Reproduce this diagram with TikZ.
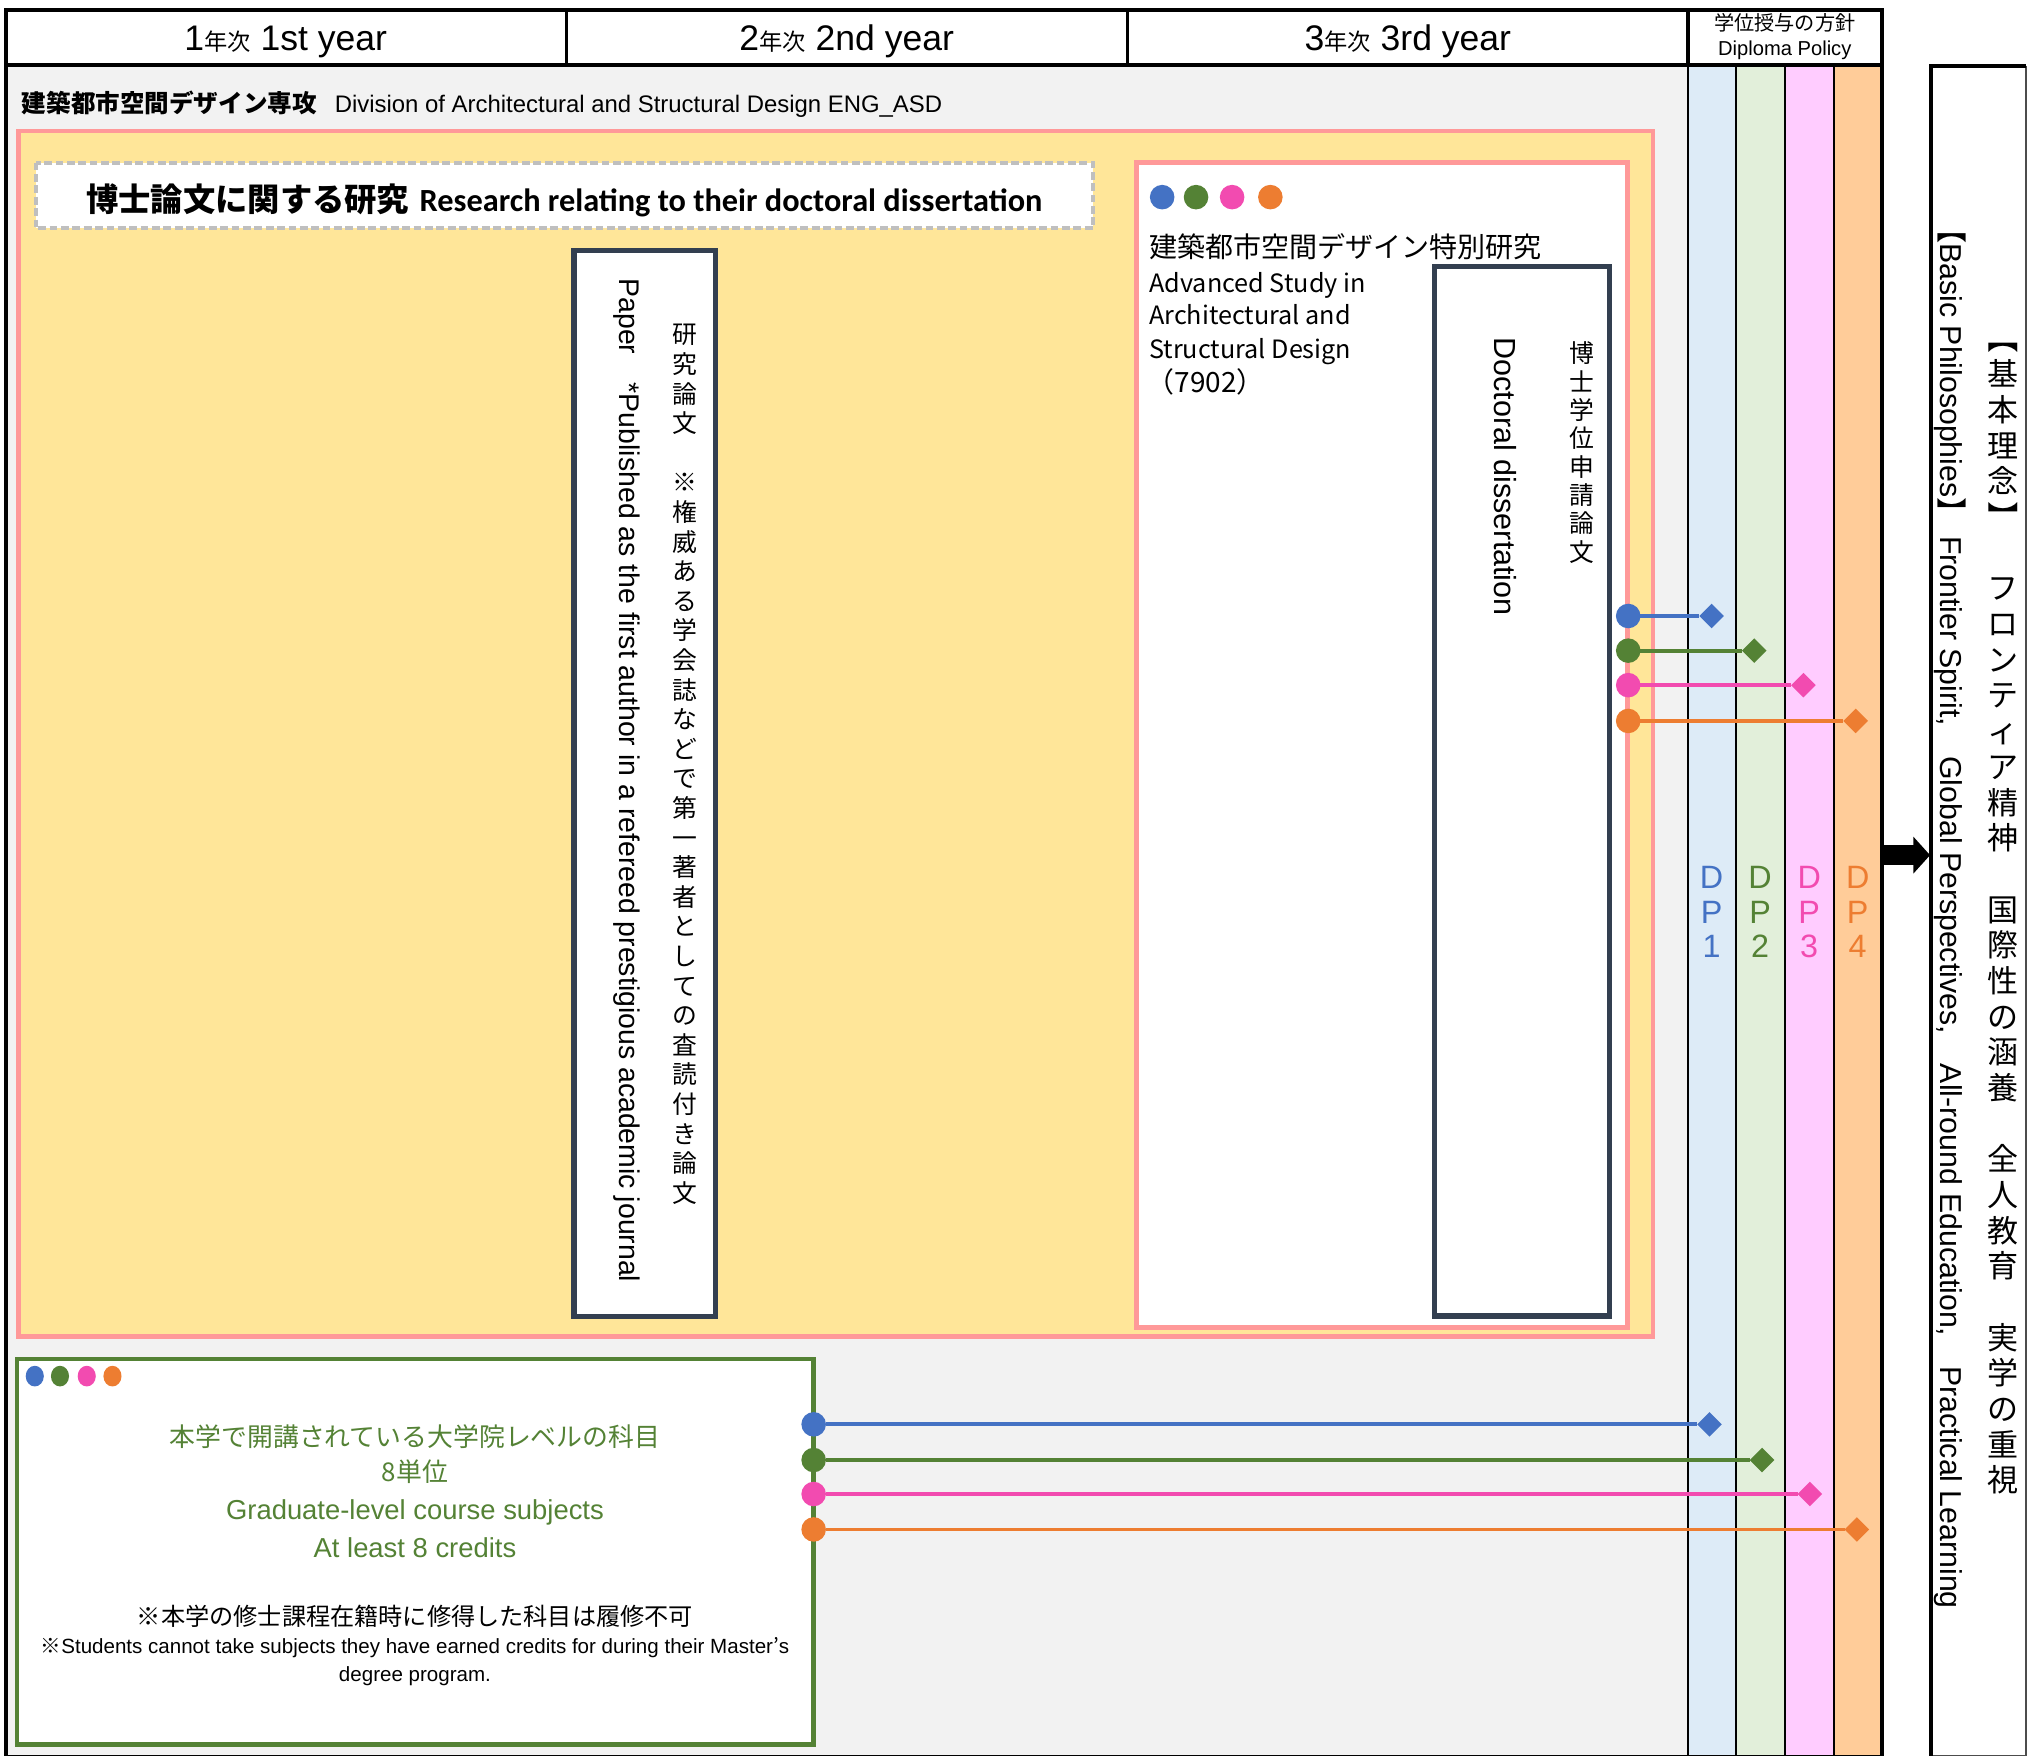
\documentclass[tikz,border=0pt]{standalone}
\usepackage{fontspec}
\usepackage{graphicx}
\setmainfont{Liberation Sans}
\newfontfamily\jp{Noto Sans CJK JP}
\newfontfamily\carl{Carlito}
\usetikzlibrary{shapes.geometric,arrows.meta}
\definecolor{bgGray}{HTML}{F2F2F2}
\definecolor{yel}{HTML}{FFE699}
\definecolor{pinkB}{HTML}{FF9999}
\definecolor{darkB}{HTML}{333F50}
\definecolor{dashG}{HTML}{BFBFBF}
\definecolor{cB}{HTML}{4472C4}
\definecolor{cG}{HTML}{548235}
\definecolor{cP}{HTML}{F24BB0}
\definecolor{cO}{HTML}{ED7D31}
\definecolor{dpB}{HTML}{DDEBF7}
\definecolor{dpG}{HTML}{E2EFDA}
\definecolor{dpP}{HTML}{FFCCFF}
\definecolor{dpO}{HTML}{FFCC99}
\newcommand\fs[2]{\fontsize{#1pt}{#2pt}\selectfont}
\makeatletter
\def\tb@stop{}
\def\tb@stopm{\tb@stop}
\newcommand\tatebox[2]{\vtop{\baselineskip=#1\lineskiplimit=-\maxdimen\lineskip=0pt\tb@loop#2\tb@stop}}
\def\tb@loop#1{\def\tb@tmp{#1}\ifx\tb@tmp\tb@stopm\else\hbox to 1em{\hss#1\hss}\expandafter\tb@loop\fi}
\makeatother
\begin{document}
\begin{tikzpicture}[x=0.5pt,y=-0.5pt,
  every node/.style={inner sep=0pt,outer sep=0pt},
  pdot/.style={circle,fill=#1,minimum size=9.5pt},
  sdot/.style={ellipse,fill=#1,minimum width=7pt,minimum height=8pt},
  pdia/.style={diamond,fill=#1,minimum width=9.5pt,minimum height=9.5pt},
  pconn/.style={draw=#1,line width=1.5pt},
  dpline/.style={draw=black,line width=0.7pt},
  ven/.style={rotate=-90,anchor=west},
  hdr/.style={anchor=base,font=\fs{13.75}{16}},
]
\fill[white] (0,0) rectangle (1568,1359);
\useasboundingbox (0,0) rectangle (1568,1359);
% body
\fill[bgGray] (4.9,50.5) rectangle (1305.6,1358);
\fill[dpB] (1305.6,50.5) rectangle (1343,1358);
\fill[dpG] (1343,50.5) rectangle (1380.6,1358);
\fill[dpP] (1380.6,50.5) rectangle (1418.8,1358);
\fill[dpO] (1418.8,50.5) rectangle (1455.6,1358);
\foreach \xx in {1305.6,1343,1380.6,1418.8} \draw[dpline] (\xx,50.5) -- (\xx,1358);
% header
\filldraw[fill=white,draw=black,line width=1.5pt] (4.9,7.7) rectangle (1455.6,50.5);
\draw[line width=1pt] (438,7.7) -- (438,50.5);
\draw[line width=1pt] (872,7.7) -- (872,50.5);
\draw[line width=1.5pt] (1305.6,7.7) -- (1305.6,50.5);
\draw[line width=1.5pt] (1455.6,7.7) -- (1455.6,1358);
\draw[line width=1.5pt] (4.9,7.7) -- (4.9,1358);
\draw[line width=0.6pt] (4.9,1358) -- (1455.6,1358);
\node[hdr] (h1) at (221,38.8) {1{\jp\fs{9}{10}年次} 1st year};
\node[hdr] (h2) at (655,38.8) {2{\jp\fs{9}{10}年次} 2nd year};
\node[hdr] (h3) at (1089,38.8) {3{\jp\fs{9}{10}年次} 3rd year};
\node[align=center,font=\fs{7.8}{9.5}] (h4) at (1380.6,28.5) {{\jp 学位授与の方針}\\Diploma Policy};
% section title
\node[anchor=base west] (sec) at (17,87) {{\jp\bfseries\fs{9.5}{11}建築都市空間デザイン専攻}\hspace{7pt}{\fs{9.25}{11}Division of Architectural and Structural Design ENG\_ASD}};
% yellow research box
\draw[fill=yel,draw=pinkB,line width=1.75pt] (14.5,101.5) rectangle (1278.5,1034);
\draw[fill=white,draw=dashG,line width=1.6pt,dash pattern=on 3pt off 1.4pt] (27.6,125.8) rectangle (845.5,176.6);
\node[anchor=base] (ttl) at (436.5,163.5) {{\jp\bfseries\fs{12.5}{14}博士論文に関する研究}\hspace{4pt}{\carl\bfseries\fs{12.5}{14}Research relating to their doctoral dissertation}};
% paper box
\draw[fill=white,draw=darkB,line width=2pt] (444,194) rectangle (553.5,1018.5);
\node[anchor=base,font=\jp\fs{9.6}{11}] (pjp) at (530,266) {\tatebox{11.45pt}{研究論文　※権威ある学会誌などで第一著者としての査読付き論文}};
\node[ven,font=\fs{11}{13}] (pen) at (485,215.5) {Paper\hspace{1em}*Published as the first author in a refereed prestigious academic journal};
% advanced study box
\draw[fill=white,draw=pinkB,line width=1.9pt] (879,126) rectangle (1258.6,1027);
\node[pdot=cB] (a1) at (899,152.5) {};
\node[pdot=cG] (a2) at (925.2,152.5) {};
\node[pdot=cP] (a3) at (953.1,152.5) {};
\node[pdot=cO] (a4) at (982.7,152.5) {};
\node[anchor=base west,font=\jp\fs{10.85}{12}] (adv) at (889,199) {建築都市空間デザイン特別研究};
\node[anchor=base west,font=\jp\fs{9.75}{12}] (adv1) at (889,226) {Advanced Study in};
\node[anchor=base west,font=\jp\fs{9.75}{12}] (adv2) at (889,251.3) {Architectural and};
\node[anchor=base west,font=\jp\fs{9.75}{12}] (adv3) at (889,277.5) {Structural Design};
\node[anchor=base west,font=\jp\fs{10.8}{12}] (adv4) at (887,304) {（7902）};
% dissertation box
\draw[fill=white,draw=darkB,line width=2pt] (1109.5,206) rectangle (1245,1018);
\node[anchor=base,font=\jp\fs{9.6}{11}] (djp) at (1223.5,280.7) {\tatebox{10.95pt}{博士学位申請論文}};
\node[ven,font=\fs{11.8}{13}] (den) at (1164.2,261.2) {Doctoral dissertation};
% upper connectors
\node[pdot=cB] (u1) at (1259.5,476.5) {};
\node[pdot=cG] (u2) at (1259.5,503.3) {};
\node[pdot=cP] (u3) at (1259.5,530) {};
\node[pdot=cO] (u4) at (1259.5,557.7) {};
\node[pdia=cB] (v1) at (1324,476.5) {};
\node[pdia=cG] (v2) at (1357,503.3) {};
\node[pdia=cP] (v3) at (1395,530) {};
\node[pdia=cO] (v4) at (1435.5,557.7) {};
\draw[pconn=cB] (u1) -- (v1);
\draw[pconn=cG] (u2) -- (v2);
\draw[pconn=cP] (u3) -- (v3);
\draw[pconn=cO] (u4) -- (v4);
% lower course box
\draw[fill=white,draw=cG,line width=1.75pt] (13,1051.3) rectangle (629.4,1349.5);
\node[sdot=cB] (s1) at (26.9,1064.5) {};
\node[sdot=cG] (s2) at (46.4,1064.5) {};
\node[sdot=cP] (s3) at (67.1,1064.5) {};
\node[sdot=cO] (s4) at (87,1064.5) {};
\node[anchor=base,font=\jp\fs{10}{12},text=cG] (g1) at (321,1119) {本学で開講されている大学院レベルの科目};
\node[anchor=base,font=\jp\fs{10}{12},text=cG] (g2) at (321,1146) {8単位};
\node[anchor=base,font=\fs{10.6}{12},text=cG] (g3) at (321,1175.7) {Graduate-level course subjects};
\node[anchor=base,font=\fs{10.6}{12},text=cG] (g4) at (321,1204.6) {At least 8 credits};
\node[anchor=base,font=\jp\fs{9.35}{11}] (n1) at (321,1257.2) {※本学の修士課程在籍時に修得した科目は履修不可};
\node[anchor=base,font=\fs{7.95}{10}] (n2) at (321,1279) {{\jp ※}Students cannot take subjects they have earned credits for during their Master{\jp ’}s};
\node[anchor=base,font=\fs{7.95}{10}] (n3) at (321,1300.5) {degree program.};
% lower connectors
\node[pdot=cB] (l1) at (629.4,1101.8) {};
\node[pdot=cG] (l2) at (629.4,1129.4) {};
\node[pdot=cP] (l3) at (629.4,1155.7) {};
\node[pdot=cO] (l4) at (629.4,1183.1) {};
\node[pdia=cB] (m1) at (1322.4,1101.8) {};
\node[pdia=cG] (m2) at (1363,1129.4) {};
\node[pdia=cP] (m3) at (1400,1155.7) {};
\node[pdia=cO] (m4) at (1436.4,1183.1) {};
\draw[pconn=cB] (l1) -- (m1);
\draw[pconn=cG] (l2) -- (m2);
\draw[pconn=cP] (l3) -- (m3);
\draw[pconn=cO] (l4) -- (m4);
% DP labels
\node[anchor=base,font=\fs{12.5}{14},text=cB] (dp1) at (1324,687) {\tatebox{13.5pt}{DP1}};
\node[anchor=base,font=\fs{12.5}{14},text=cG] (dp2) at (1361.5,687) {\tatebox{13.5pt}{DP2}};
\node[anchor=base,font=\fs{12.5}{14},text=cP] (dp3) at (1399.5,687) {\tatebox{13.5pt}{DP3}};
\node[anchor=base,font=\fs{12.5}{14},text=cO] (dp4) at (1437,687) {\tatebox{13.5pt}{DP4}};
% right philosophy box
\draw[fill=white,draw=black!70,line width=0.6pt] (1494,51.3) rectangle (1567.4,1357.8);
\draw[line width=1.5pt] (1567.4,51.3) -- (1494,51.3) -- (1494,1358);
\node[anchor=base,font=\jp\fs{12}{14}] (rjp) at (1549.8,270.9) {\tatebox{13.8pt}{{\rotatebox[origin=c]{-90}{【}}基本理念{\rotatebox[origin=c]{-90}{】}}　フロンティア精神　国際性の涵養　全人教育　実学の重視}};
\node[ven,font=\fs{11.7}{13}] (ren) at (1508.5,165) {{\jp【}Basic Philosophies{\jp】} Frontier Spirit,{\jp　}Global Perspectives,{\jp　}All-round Education,{\jp　}Practical Learning};
% arrow
\coordinate (as) at (1456.5,661.5);
\coordinate (ae) at (1493,661.5);
\draw[line width=7.6pt,-{Triangle[length=6.5pt,width=14pt]}] (as) -- (ae);
\end{tikzpicture}
\end{document}
